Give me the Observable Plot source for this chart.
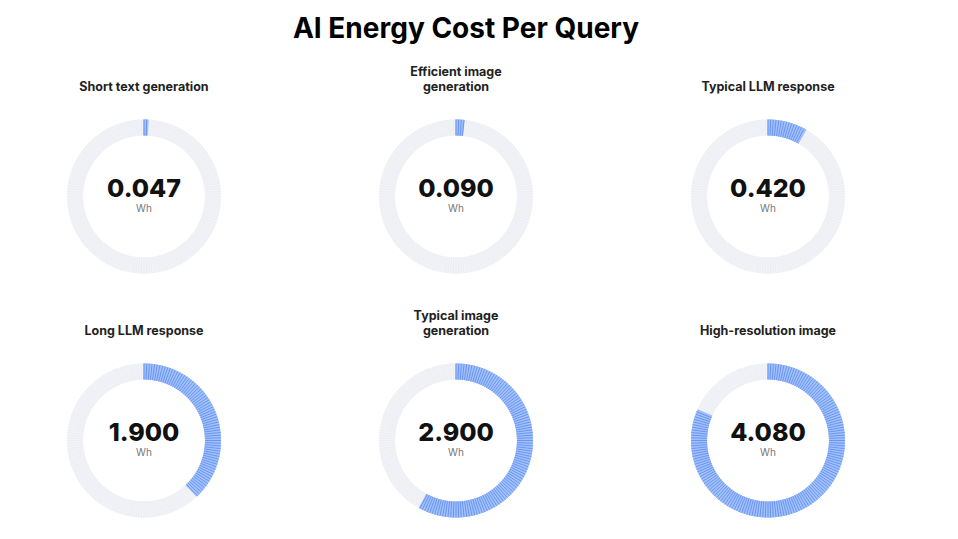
<!DOCTYPE html>
<html>
<head>
<meta charset="utf-8">
<script src="https://cdn.jsdelivr.net/npm/d3@7"></script>
<script src="https://cdn.jsdelivr.net/npm/@observablehq/plot@0.6"></script>
<style>
  html, body { margin: 0; padding: 0; background: #ffffff; }
  body { width: 958px; height: 539px; overflow: hidden; font-family: Inter, "Noto Sans", sans-serif; }
  #title { width: 932px; height: 40px; padding-top: 14px; box-sizing: border-box; text-align: center;
           font-size: 28px; line-height: 28px; font-weight: 700; color: #000; }
  #chart svg { display: block; }
</style>
</head>
<body>
<div id="title">AI Energy Cost Per Query</div>
<div id="chart"></div>
<script>
const chartTitle = "AI Energy Cost Per Query";
const categories = [
  "Short text generation",
  "Efficient image\ngeneration",
  "Typical LLM response",
  "Long LLM response",
  "Typical image\ngeneration",
  "High-resolution image"
];
const valuesWh = [0.047, 0.090, 0.420, 1.900, 2.900, 4.080];
const valueLabels = ["0.047", "0.090", "0.420", "1.900", "2.900", "4.080"];
const unitLabel = "Wh";
const scaleMaxWh = 5;

// layout constants
const COLS = 3;
const R_OUT = 77, R_IN = 61;

const items = categories.map((c, i) => ({
  category: c, value: valuesWh[i], label: valueLabels[i],
  col: i % COLS, row: Math.floor(i / COLS)
}));

// radial strokes forming each ring (angle measured clockwise from top)
const STEP = 0.5;
const ticks = [];
for (const it of items) {
  const limit = it.value / scaleMaxWh * 360;
  for (let a = 0; a < 360; a += STEP) {
    const t = a * Math.PI / 180;
    ticks.push({
      col: it.col, row: it.row, on: a + STEP / 2 < limit, stripe: (a % 2) === 0,
      x1: R_IN * Math.sin(t), y1: R_IN * Math.cos(t),
      x2: R_OUT * Math.sin(t), y2: R_OUT * Math.cos(t)
    });
  }
}

const link = (data, stroke, sw) => Plot.link(data, {
  fx: "col", fy: "row", x1: "x1", y1: "y1", x2: "x2", y2: "y2",
  stroke, strokeWidth: sw
});

const chart = Plot.plot({
  width: 958, height: 499,
  marginTop: 0, marginLeft: 0, marginRight: 22, marginBottom: 11,
  fx: {domain: [0, 1, 2], padding: 0, axis: null},
  fy: {domain: [0, 1], padding: 0, axis: null},
  x: {domain: [-143.5, 168.5], axis: null},
  y: {domain: [-88, 156], axis: null},
  style: {fontFamily: "Inter, 'Noto Sans', sans-serif", background: "#ffffff"},
  marks: [
    link(ticks.filter(d => !d.on), "#f2f3f7", 1.3),
    link(ticks.filter(d => !d.on && d.stripe), "#e8eaf0", 0.6),
    link(ticks.filter(d => d.on), "#a2c0f9", 1.3),
    link(ticks.filter(d => d.on && d.stripe), "#5a8af2", 0.8),
    Plot.text(items, {
      fx: "col", fy: "row", x: () => 0, y: () => 8, text: "label",
      fontSize: 25, fontWeight: 800, fill: "#111111"
    }),
    Plot.text(items, {
      fx: "col", fy: "row", x: () => 0, y: () => -12, text: () => unitLabel,
      fontSize: 10, fill: "#777777"
    }),
    Plot.text(items, {
      fx: "col", fy: "row", x: () => 0, y: () => 106, text: "category",
      lineAnchor: "bottom", lineHeight: 1.15, fontSize: 12.5, fontWeight: 700, fill: "#222222"
    })
  ]
});
document.getElementById("chart").appendChild(chart);
</script>
</body>
</html>
